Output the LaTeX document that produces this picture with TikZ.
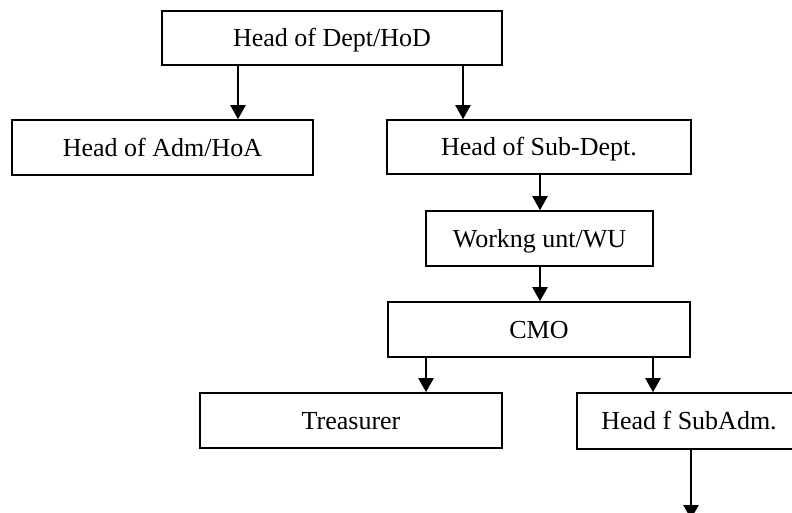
\documentclass[tikz,border=0pt]{standalone}
\usepackage{fontspec}
\setmainfont{Liberation Serif}
\usetikzlibrary{arrows.meta}
\begin{document}
\begin{tikzpicture}[x=1pt,y=-1pt,
  box/.style={draw,line width=1.6pt,rectangle,inner sep=0pt,
    text height=17.5pt,text depth=0pt,
    font=\fontsize{26}{31}\selectfont},
  arr/.style={line width=2.1pt,-{Triangle[width=15pt,length=14pt]}}]
\useasboundingbox (0,0) rectangle (792,512);
\node[box,minimum width=340pt,minimum height=54pt] (hod) at (332,38) {Head of Dept/HoD};
\node[box,minimum width=301pt,minimum height=55pt] (hoa) at (162.5,147.5) {Head of Adm/HoA};
\node[box,minimum width=304pt,minimum height=54pt] (sub) at (539,147) {Head of Sub-Dept.};
\node[box,minimum width=227pt,minimum height=55pt] (wu) at (539.5,238.5) {Workng unt/WU};
\node[box,minimum width=302pt,minimum height=55pt] (cmo) at (539,329.5) {CMO};
\node[box,minimum width=302pt,minimum height=55pt] (tre) at (351,420.5) {Treasurer};
\node[box,minimum width=224pt,minimum height=56pt] (hsa) at (689,421) {Head f SubAdm.};
\coordinate (xa) at (238,0);
\coordinate (xb) at (463,0);
\coordinate (xc) at (540,0);
\coordinate (xd) at (426,0);
\coordinate (xe) at (653,0);
\coordinate (xf) at (691,0);
\coordinate (bot) at (691,519);
\draw[arr] (hod.south -| xa) -- (hoa.north -| xa);
\draw[arr] (hod.south -| xb) -- (sub.north -| xb);
\draw[arr] (sub.south -| xc) -- (wu.north -| xc);
\draw[arr] (wu.south -| xc) -- (cmo.north -| xc);
\draw[arr] (cmo.south -| xd) -- (tre.north -| xd);
\draw[arr] (cmo.south -| xe) -- (hsa.north -| xe);
\draw[arr] (hsa.south -| xf) -- (bot);
\end{tikzpicture}
\end{document}
